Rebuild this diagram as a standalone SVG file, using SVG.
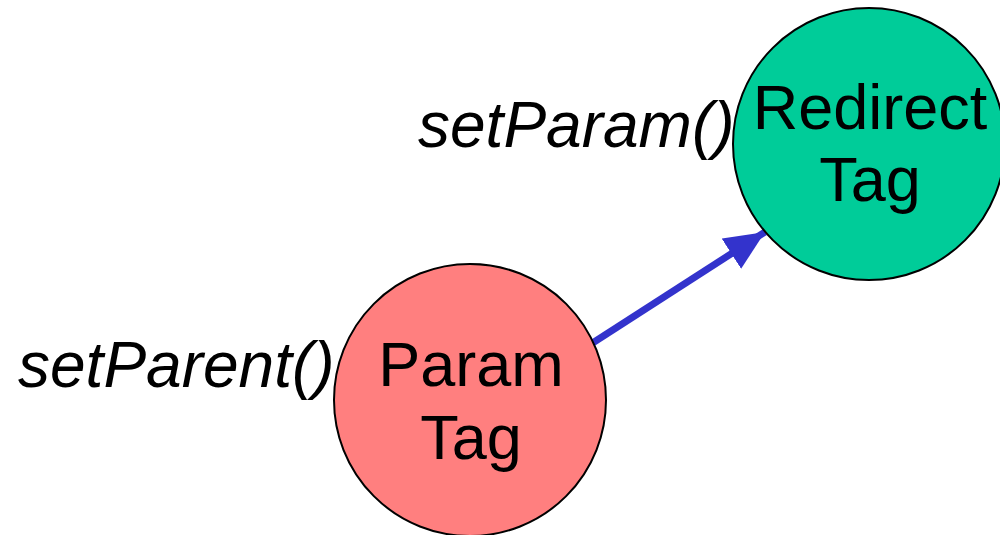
<svg xmlns="http://www.w3.org/2000/svg" width="1000" height="535" viewBox="0 0 1000 535">
<style>
.node{stroke:#000;stroke-width:2}
.lbl{font-family:"Liberation Sans",Arial,sans-serif;font-size:63px;fill:#000;text-anchor:middle}
.call{font-family:"Liberation Sans",Arial,sans-serif;font-size:64px;font-style:italic;fill:#000}
.edge{stroke:#3333CC;stroke-width:7;fill:none}
</style>
<defs>
<marker id="ah" markerUnits="userSpaceOnUse" markerWidth="44" markerHeight="36" refX="40" refY="18" orient="auto">
<path d="M0,0 L40,18 L0,36 Z" fill="#3333CC"/>
</marker>
</defs>
<rect width="1000" height="535" fill="#fff"/>
<g id="connectors">
<line class="edge" x1="591" y1="344" x2="765" y2="232" marker-end="url(#ah)"/>
</g>
<g id="param-tag">
<circle class="node" cx="470" cy="400" r="136" fill="#FF7F7F"/>
<text class="lbl" x="471" y="386">Param</text>
<text class="lbl" x="471" y="459">Tag</text>
</g>
<g id="redirect-tag">
<circle class="node" cx="869" cy="144" r="136" fill="#00CC99"/>
<text class="lbl" x="870" y="129">Redirect</text>
<text class="lbl" x="870" y="201">Tag</text>
</g>
<g id="labels">
<text class="call" x="418" y="147">setParam()</text>
<text class="call" x="18" y="387">setParent()</text>
</g>
</svg>
